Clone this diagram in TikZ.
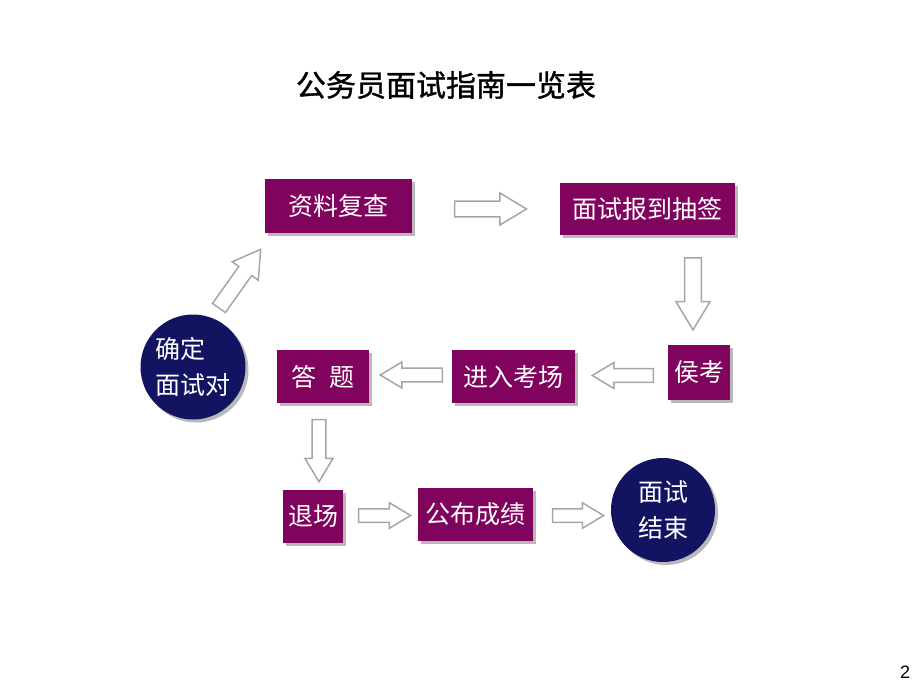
\documentclass[tikz,border=0pt]{standalone}
\usepackage{fontspec}
\setmainfont{Noto Sans CJK SC}
\newfontfamily\titlefont[FakeBold=1.2]{Noto Sans CJK SC}
\newfontfamily\pagefont{Liberation Sans}
\usetikzlibrary{shapes.arrows,shadows}

\begin{document}
\begin{tikzpicture}[x=1pt, y=-1pt,
    stepbox/.style={rectangle, fill=boxpurple, text=white, inner sep=0pt,
        font=\fontsize{25}{30}\selectfont,
        drop shadow={shadow xshift=3pt, shadow yshift=-3pt, fill=black!55, opacity=0.5}},
    endpoint/.style={circle, fill=endblue, text=white, inner sep=0pt,
        font=\fontsize{25}{36}\selectfont,
        drop shadow={shadow xshift=3pt, shadow yshift=-3pt, fill=black!55, opacity=0.5}},
    hollow/.style={single arrow, draw=gray!70, line width=1.5pt, fill=white,
        inner xsep=0pt, inner ysep=#1, single arrow tip angle=62,
        single arrow head extend=8pt},
    hollow/.default=7pt]
    % Define colors
    \definecolor{boxpurple}{RGB}{128,4,94}
    \definecolor{endblue}{RGB}{18,20,98}

    \useasboundingbox (0,0) rectangle (920,690);

    % Title
    \node (title) at (446,85) {\titlefont\fontsize{30}{36}\selectfont 公务员面试指南一览表};

    % Steps
    \node[endpoint, minimum size=105pt, align=left] (start) at (193,367) {确定\\面试对};
    \node[stepbox, minimum width=147pt, minimum height=54pt] (check) at (338.5,206) {资料复查};
    \node[stepbox, minimum width=175pt, minimum height=52pt] (draw) at (647.5,209) {面试报到抽签};
    \node[stepbox, minimum width=62pt, minimum height=55pt] (wait) at (699,372.5) {侯考};
    \node[stepbox, minimum width=123pt, minimum height=53pt] (enter) at (513.5,376.5) {进入考场};
    \node[stepbox, minimum width=92pt, minimum height=53pt] (answer) at (323,376.5) {答\hspace{0.5em}题};
    \node[stepbox, minimum width=60pt, minimum height=53pt] (leave) at (313,516.5) {退场};
    \node[stepbox, minimum width=115pt, minimum height=53pt] (result) at (475.5,514.5) {公布成绩};
    \node[endpoint, minimum size=104pt, align=center] (finish) at (663,510) {面试\\结束};

    % Arrows
    \node[hollow, minimum height=72pt, minimum width=32pt, rotate=54.6] (a1) at (236,284) {};
    \node[hollow, minimum height=72pt, minimum width=32pt] (a2) at (484,209) {};
    \node[hollow, minimum height=72pt, minimum width=34pt, rotate=-90] (a3) at (693,287) {};
    \node[hollow=6pt, minimum height=61pt, minimum width=26pt, rotate=180, single arrow head extend=6pt] (a4) at (628.5,375.5) {};
    \node[hollow=6pt, minimum height=62pt, minimum width=26pt, rotate=180, single arrow head extend=6pt] (a5) at (417,375) {};
    \node[hollow=6pt, minimum height=62pt, minimum width=28pt, rotate=-90, single arrow head extend=7pt] (a6) at (319,445) {};
    \node[hollow=6pt, minimum height=52pt, minimum width=25pt, single arrow head extend=6pt] (a7) at (379,515.5) {};
    \node[hollow=6pt, minimum height=51pt, minimum width=25pt, single arrow head extend=6pt] (a8) at (572.5,515.5) {};

    % Page number
    \node (page) at (905,672) {\pagefont\fontsize{18}{20}\selectfont 2};
\end{tikzpicture}
\end{document}
